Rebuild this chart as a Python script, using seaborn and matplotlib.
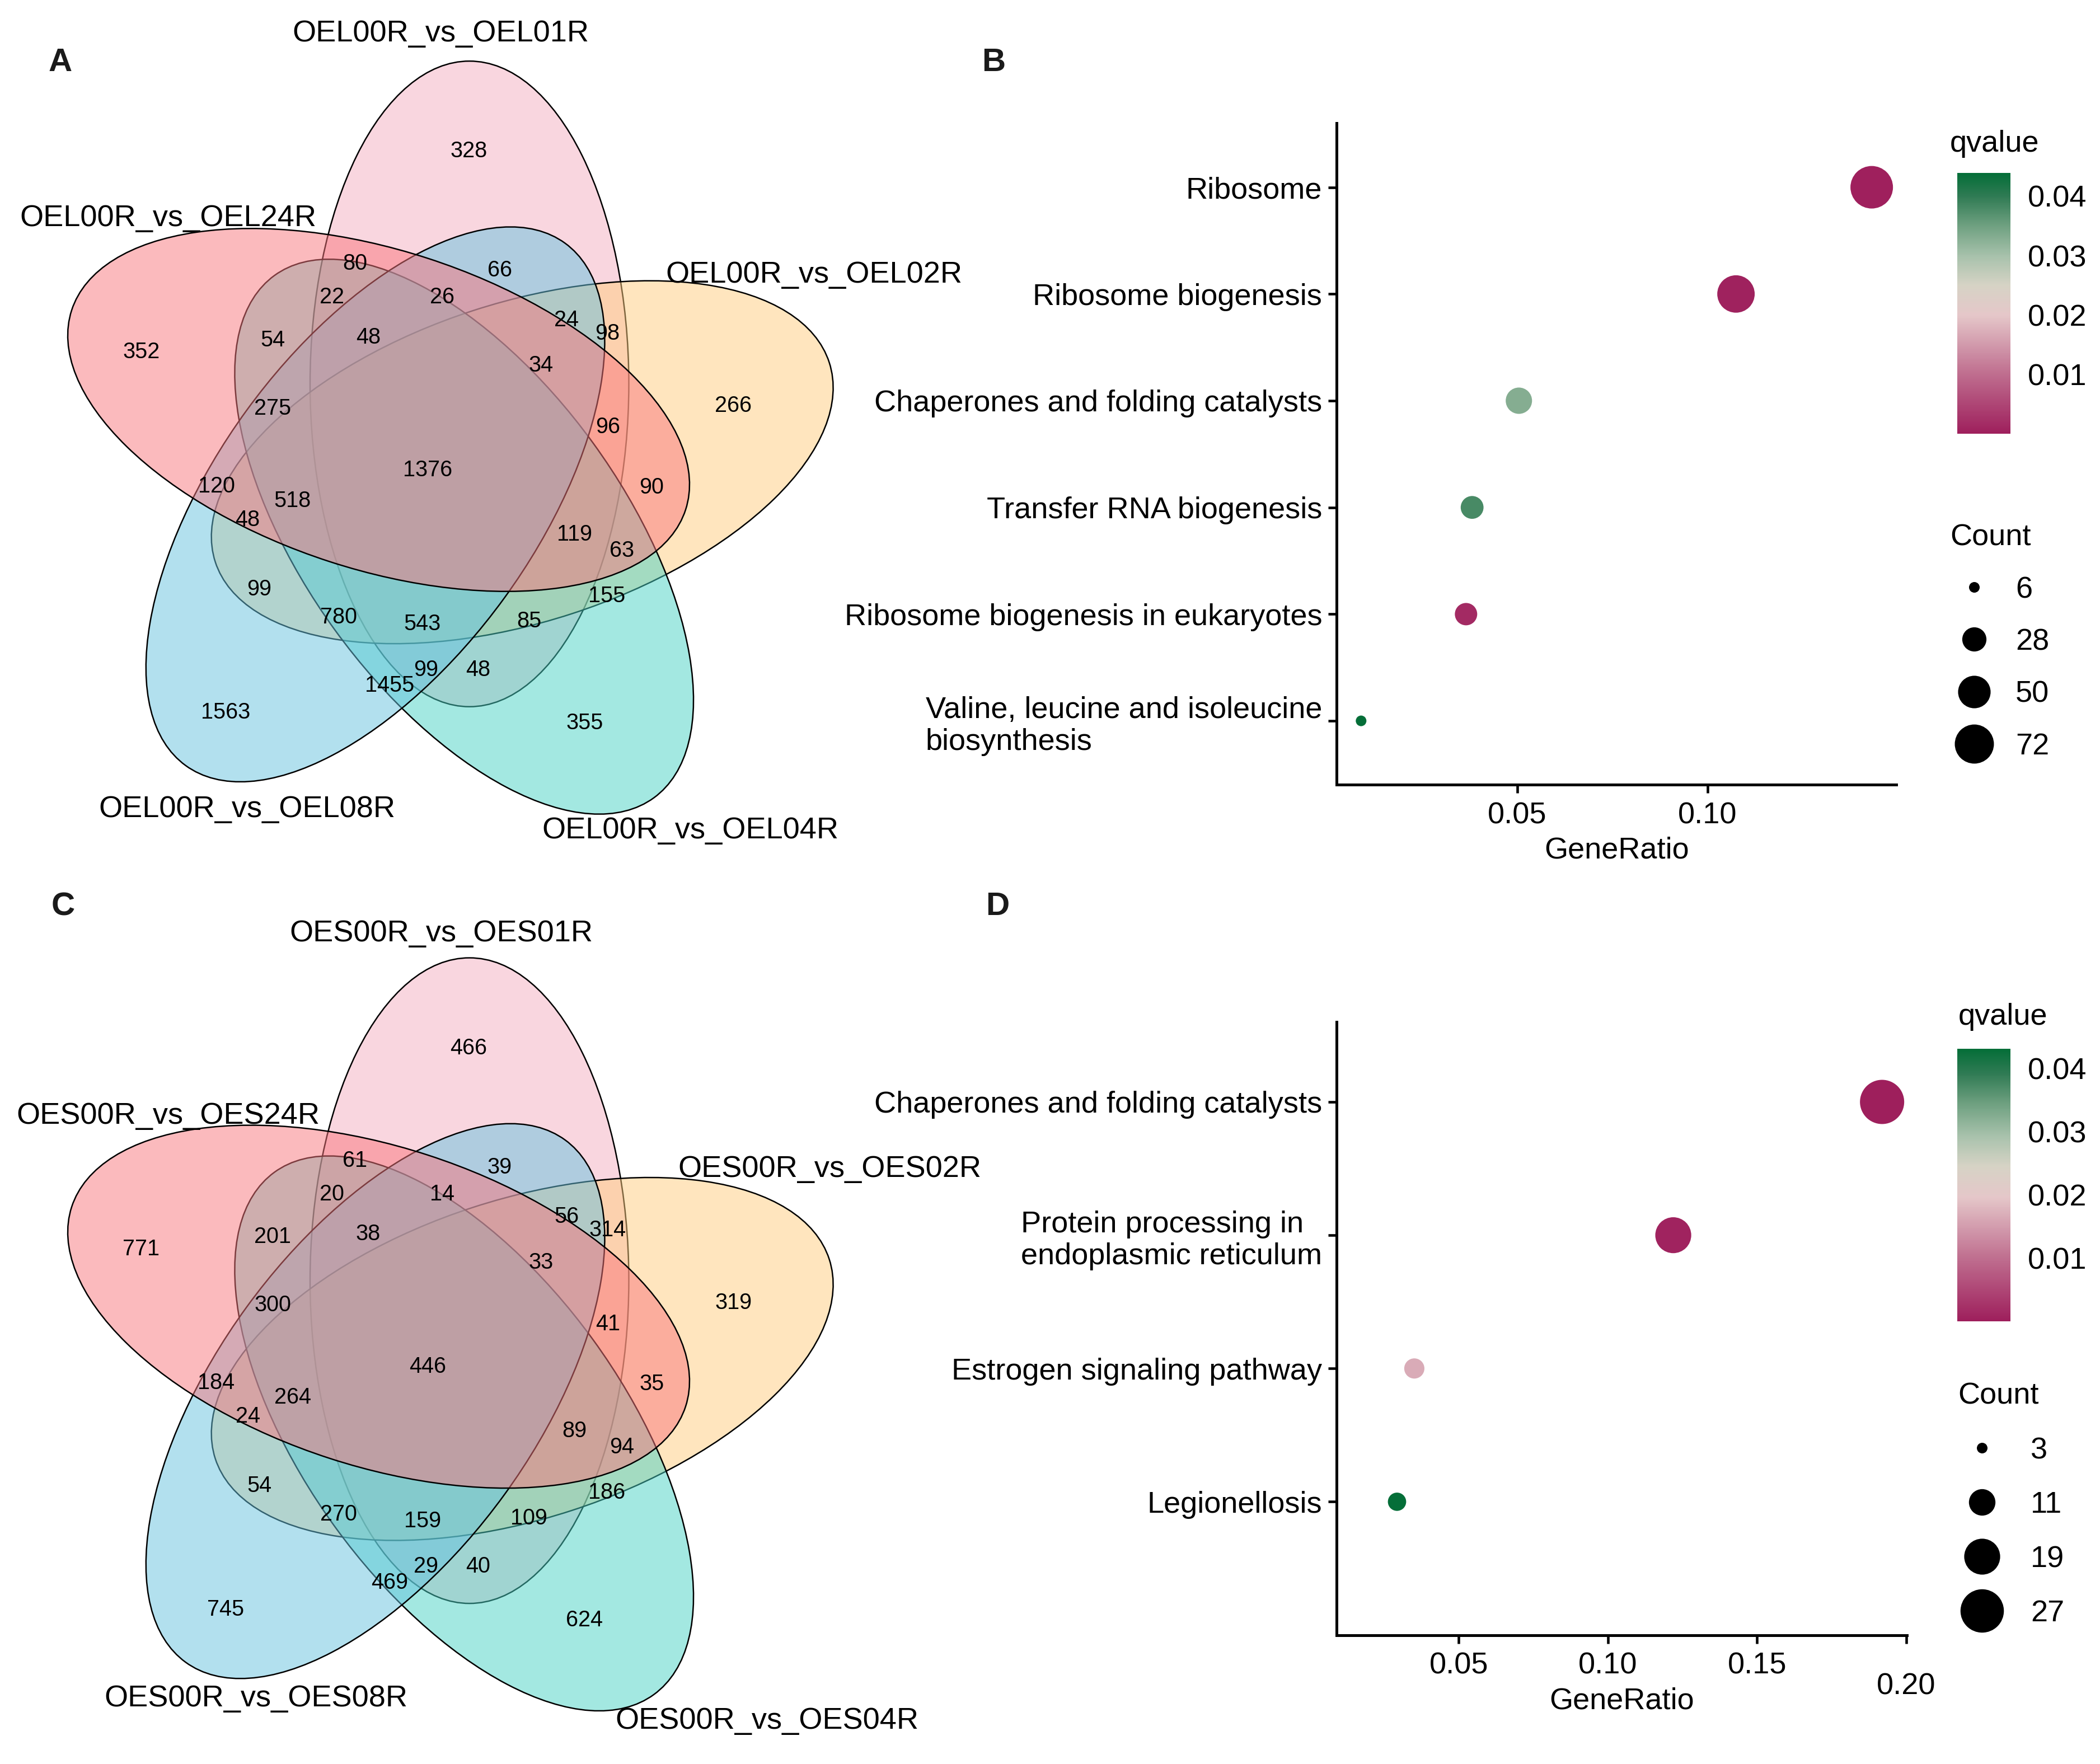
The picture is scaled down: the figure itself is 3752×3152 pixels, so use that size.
import numpy as np
import pandas as pd
import seaborn as sns
import matplotlib.pyplot as plt
import matplotlib.transforms as mtransforms
from matplotlib.colors import LinearSegmentedColormap, Normalize, to_rgba
from matplotlib.patches import Ellipse
from matplotlib.lines import Line2D
from matplotlib.cm import ScalarMappable

# ---- data ----
sets_a = ['OEL00R_vs_OEL01R', 'OEL00R_vs_OEL02R', 'OEL00R_vs_OEL04R',
          'OEL00R_vs_OEL08R', 'OEL00R_vs_OEL24R']
sets_c = ['OES00R_vs_OES01R', 'OES00R_vs_OES02R', 'OES00R_vs_OES04R',
          'OES00R_vs_OES08R', 'OES00R_vs_OES24R']

# region counts, same region order for both diagrams
counts_a = [328, 80, 66, 22, 26, 24, 98, 352, 54, 48, 34, 266, 275, 96, 1376, 120,
            90, 518, 48, 119, 63, 99, 155, 780, 543, 85, 99, 48, 1455, 1563, 355]
counts_c = [466, 61, 39, 20, 14, 56, 314, 771, 201, 38, 33, 319, 300, 41, 446, 184,
            35, 264, 24, 89, 94, 54, 186, 270, 159, 109, 29, 40, 469, 745, 624]

terms_b = ['Ribosome', 'Ribosome biogenesis', 'Chaperones and folding catalysts',
           'Transfer RNA biogenesis', 'Ribosome biogenesis in eukaryotes',
           'Valine, leucine and isoleucine\nbiosynthesis']
ratio_b = [0.1432, 0.1075, 0.0504, 0.0381, 0.0365, 0.0089]
count_b = [85, 66, 33, 25, 24, 6]
qval_b = [0.0002, 0.0005, 0.033, 0.038, 0.0015, 0.0439]
breaks_b = [6, 28, 50, 72]

terms_d = ['Chaperones and folding catalysts', 'Protein processing in\nendoplasmic reticulum',
           'Estrogen signaling pathway', 'Legionellosis']
ratio_d = [0.1919, 0.1219, 0.0351, 0.0293]
count_d = [28, 19, 7, 6]
qval_d = [0.0001, 0.0006, 0.0165, 0.0431]
breaks_d = [3, 11, 19, 27]

q_ticks = [0.01, 0.02, 0.03, 0.04]

# ---- style ----
sns.set_style('white')
plt.rcParams['font.family'] = ['Liberation Sans', 'DejaVu Sans']
plt.rcParams['font.size'] = 13
plt.rcParams['text.color'] = 'black'
plt.rcParams['axes.labelcolor'] = 'black'

W, H = 1568, 1317  # layout grid (reference pixels)
fig = plt.figure(figsize=(3752 / 300, 3152 / 300), dpi=300)


def fx(x):
    return x / W


def fy(y):
    return 1 - y / H


# overlay axes in layout coordinates for the venn diagrams and panel letters
ov = fig.add_axes([0, 0, 1, 1])
ov.set_xlim(0, W)
ov.set_ylim(H, 0)
ov.axis('off')

fills = ['#F5AFC1', '#FFCD7F', '#49D3C5', '#67C3DF', '#F9767D']
vc_x, vc_y = 330, 343
dist, semi_a, semi_b = 60, 241, 119
theta0, tilt = 70, 20

region_xy = [(350, 113), (265, 197), (373, 202), (248, 222), (330, 222), (423, 239),
             (453.5, 249), (105.5, 263), (203.5, 254), (275, 252), (404, 273),
             (547.5, 303), (203.5, 305), (454, 319), (319.5, 351), (161.5, 363),
             (486.5, 364), (218.5, 374), (185, 388), (429, 399), (464.5, 411),
             (193.5, 440), (453, 445), (253, 461), (315.5, 466), (395, 464),
             (318, 500), (357, 500), (291, 512), (168.5, 532), (436.5, 540)]

label_xy_a = [(329, 25), (608, 205), (515.5, 620), (184.5, 604), (125.5, 163)]
label_xy_c = [(329.5, 697), (619.5, 873), (572.5, 1285), (191, 1268), (125.5, 833)]


def draw_venn(names, counts, label_xy, dy):
    for k in range(5):
        th = theta0 - 72 * k
        cx = vc_x + dist * np.cos(np.deg2rad(th))
        cy = vc_y - dist * np.sin(np.deg2rad(th)) + dy
        ov.add_patch(Ellipse((cx, cy), 2 * semi_a, 2 * semi_b, angle=-(th + tilt),
                             facecolor=to_rgba(fills[k], 0.5), edgecolor='black', lw=0.6))
    for (x, y), n in zip(region_xy, counts):
        ov.text(x, y + dy, str(n), fontsize=9.5, ha='center', va='center', color='black')
    for (x, y), name in zip(label_xy, names):
        ov.text(x, y, name, fontsize=13, ha='center', va='center', color='black')


draw_venn(sets_a, counts_a, label_xy_a, 0)
draw_venn(sets_c, counts_c, label_xy_c, 669.5)

for x, y, s in [(45, 47, 'A'), (742, 47, 'B'), (47, 677, 'C'), (745, 677, 'D')]:
    ov.text(x, y, s, fontsize=14, fontweight='bold', ha='center', va='center', color='#1a1a1a')

cmap = LinearSegmentedColormap.from_list('q', [
    (0.0, '#9E1F5C'), (0.23, '#BF6E8F'), (0.455, '#E5C7C9'), (0.57, '#D6D3C5'),
    (0.68, '#A8C2AC'), (0.80, '#6EA080'), (0.91, '#307B54'), (1.0, '#046E38')])


def dotplot(rect, terms, ratio, count, qval, qmax, lo, hi, smax, xlim, ylim_bottom):
    ax = fig.add_axes(rect)
    df = pd.DataFrame({'pos': np.arange(len(terms)), 'GeneRatio': ratio,
                       'Count': count, 'qvalue': qval})
    sns.scatterplot(data=df, x='GeneRatio', y='pos', hue='qvalue', palette=cmap,
                    hue_norm=(0, qmax), size='Count', sizes=(20.8, smax),
                    size_norm=(lo, hi), linewidth=0, legend=False, ax=ax)
    ax.set_xlim(*xlim)
    ax.set_ylim(ylim_bottom, -0.6)
    ax.set_yticks(np.arange(len(terms)))
    ax.set_yticklabels(terms, multialignment='left')
    ax.set_ylabel('')
    ax.set_xlabel('GeneRatio', fontsize=13, labelpad=3)
    for s in ['top', 'right']:
        ax.spines[s].set_visible(False)
    for s in ['left', 'bottom']:
        ax.spines[s].set_linewidth(1.2)
        ax.spines[s].set_color('black')
    ax.tick_params(axis='both', length=3.7, width=1.1, color='black', labelsize=13,
                   labelcolor='black', left=True, bottom=True)
    ax.tick_params(axis='y', pad=2.5)
    ax.tick_params(axis='x', pad=3.5)
    return ax


ax_b = dotplot([fx(998), fy(586), (1416 - 998) / W, (586 - 92) / H], terms_b, ratio_b,
               count_b, qval_b, 0.0439, 6, 85, 332.7, (0.00246, 0.1497), 5.6)
ax_b.set_xticks([0.05, 0.10])
ax_b.set_xticklabels(['0.05', '0.10'])

ax_d = dotplot([fx(998), fy(1220.7), (1424 - 998) / W, (1220.7 - 763) / H], terms_d, ratio_d,
               count_d, qval_d, 0.0431, 3, 28, 359.5, (0.00905, 0.2003), 4.0)
ax_d.set_xticks([0.05, 0.10, 0.15, 0.20])
ax_d.set_xticklabels(['0.05', '0.10', '0.15', ''])
trans = mtransforms.blended_transform_factory(ax_d.transData, ax_d.transAxes)
ax_d.text(0.20, -0.0837, '0.20', transform=trans, ha='center', va='center', fontsize=13)


def colorbar(y_top, y_bot, qmax):
    cax = fig.add_axes([fx(1461.5), fy(y_bot), 39.5 / W, (y_bot - y_top) / H])
    cb = fig.colorbar(ScalarMappable(norm=Normalize(0, qmax), cmap=cmap), cax=cax,
                      ticks=q_ticks)
    cb.outline.set_visible(False)
    cb.ax.set_yticklabels([f'{t:.2f}' for t in q_ticks])
    cax.tick_params(direction='in', length=4.5, width=0.6, color='white', left=True,
                    right=True, labelleft=False, labelright=True, labelsize=13, pad=7.5,
                    labelcolor='black')
    return cb


colorbar(129, 324, 0.0439)
colorbar(783, 986.5, 0.0431)
fig.text(fx(1456), fy(107.5), 'qvalue', ha='left', va='center', fontsize=13)
fig.text(fx(1462), fy(759), 'qvalue', ha='left', va='center', fontsize=13)


def size_legend(ax, breaks, lo, hi, smax, x0, y_top, hl, tp, ls):
    handles = []
    for v in breaks:
        area = 20.8 + (smax - 20.8) * (v - lo) / (hi - lo)
        handles.append(Line2D([], [], marker='o', ls='', color='black',
                              markeredgewidth=0, markersize=np.sqrt(area)))
    ax.legend(handles, [str(v) for v in breaks], title='Count', loc='upper left',
              bbox_to_anchor=(fx(x0), fy(y_top)), bbox_transform=fig.transFigure,
              frameon=False, borderpad=0, borderaxespad=0, handlelength=hl,
              handletextpad=tp, labelspacing=ls, fontsize=13, title_fontsize=13,
              alignment='left')


size_legend(ax_b, breaks_b, 6, 85, 332.7, 1456, 391, 1.59, 0.57, 0.8)
size_legend(ax_d, breaks_d, 3, 28, 359.5, 1462, 1032, 1.59, 0.8, 0.87)

fig.savefig('out.png', dpi=300)
